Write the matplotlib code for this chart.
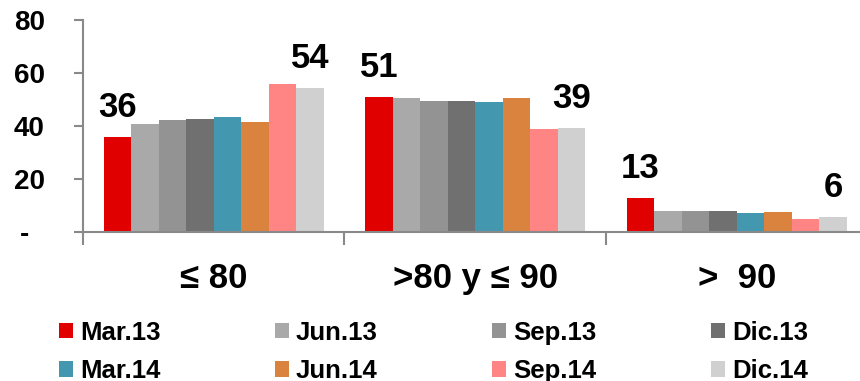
import numpy as np
import matplotlib
matplotlib.use("Agg")
import matplotlib.pyplot as plt
from matplotlib.patches import Patch

plt.rcParams['font.family'] = ['Liberation Sans', 'DejaVu Sans']
plt.rcParams['font.weight'] = 'bold'

# LTV buckets and quarterly series
categories = ["\u2264 80", ">80 y \u2264 90", ">  90"]
periods = ["Mar.13", "Jun.13", "Sep.13", "Dic.13", "Mar.14", "Jun.14", "Sep.14", "Dic.14"]
colors = ["#E00000", "#A9A9A9", "#939393", "#707070", "#4398B0", "#DA833F", "#FF8585", "#D0D0D0"]

mar13 = [36.0, 51.0, 13.1]
jun13 = [40.9, 50.8, 7.9]
sep13 = [42.4, 49.5, 8.0]
dic13 = [42.8, 49.4, 7.9]
mar14 = [43.4, 49.1, 7.4]
jun14 = [41.6, 50.6, 7.5]
sep14 = [56.0, 38.9, 4.9]
dic14 = [54.4, 39.3, 5.8]

series = [mar13, jun13, sep13, dic13, mar14, jun14, sep14, dic14]

fig = plt.figure(figsize=(8.6, 3.81), dpi=100)
ax = fig.add_axes([0.0965, 0.3902, 0.9122, 0.5573])

x = np.arange(len(categories)) + 0.5
w = 0.1052
gray = "#898989"

bars = []
for i, (vals, col, lab) in enumerate(zip(series, colors, periods)):
    b = ax.bar(x - 4 * w + (i + 0.5) * w, vals, width=w, color=col, label=lab)
    bars.append(b)

# value labels on first and last period of each bucket
for b in (bars[0], bars[-1]):
    for rect in b:
        v = rect.get_height()
        ax.annotate(f"{v:.0f}", (rect.get_x() + rect.get_width() / 2, v),
                    xytext=(0, 14.4), textcoords="offset points",
                    ha="center", va="baseline", fontsize=25, fontweight="bold")

ax.set_xlim(0, 3)
ax.set_ylim(0, 80)
ax.set_yticks([0, 20, 40, 60, 80])
ax.set_yticklabels(["-  ", "20", "40", "60", "80"], fontsize=20, fontweight="bold")

ax.set_xticks([0, 1, 2, 3])
ax.set_xticklabels([])
ax.set_xticks(x, minor=True)
ax.set_xticklabels(categories, minor=True, fontsize=25, fontweight="bold")
ax.tick_params(axis="x", which="major", direction="out", length=9.5, width=1.5, color=gray)
ax.tick_params(axis="x", which="minor", length=0, pad=21)
ax.tick_params(axis="y", direction="out", length=6.5, width=1.5, color=gray, pad=21)

for s in ("top", "right"):
    ax.spines[s].set_visible(False)
for s in ("left", "bottom"):
    ax.spines[s].set_color(gray)
    ax.spines[s].set_linewidth(1.5)

# legend in two rows, filled column by column
order = [0, 4, 1, 5, 2, 6, 3, 7]
handles = [Patch(facecolor=colors[k]) for k in order]
labels = [periods[k] for k in order]
fig.legend(handles, labels, ncol=4, loc="upper left", bbox_to_anchor=(0.0686, 0.158),
           frameon=False, borderpad=0, borderaxespad=0,
           prop={"size": 18.5, "weight": "bold"},
           handlelength=0.55, handleheight=0.55, handletextpad=0.27,
           columnspacing=4.45, labelspacing=0.56)

fig.savefig("out.png", dpi=100)
